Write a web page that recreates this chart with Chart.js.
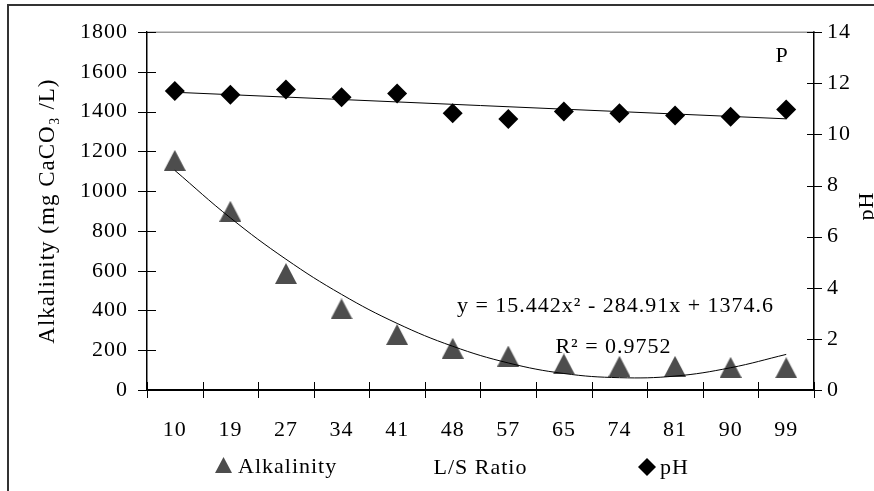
<!DOCTYPE html>
<html><head><meta charset="utf-8">
<script src="https://cdn.jsdelivr.net/npm/chart.js@4.4.1/dist/chart.umd.min.js"></script>
<style>html,body{margin:0;padding:0;background:#fff;overflow:hidden}#wrap{width:874px;height:491px;position:relative}</style>
</head><body><div id="wrap"><canvas id="c" width="874" height="491"></canvas></div>
<script>
// ---- data ----
const categories = ['10','19','27','34','41','48','57','65','74','81','90','99'];
const alkalinity = [1155, 899, 586, 408, 279, 210, 171, 131, 119, 119, 114, 112];
const pH = [11.70, 11.55, 11.76, 11.45, 11.60, 10.83, 10.60, 10.90, 10.83, 10.74, 10.69, 10.98];
const alkalinityTrend = [1105, 866, 658, 481, 335, 220, 136, 83, 62, 70, 112, 179];
const pHTrend = [11.65, null, null, null, null, null, null, null, null, null, null, 10.61];
const leftTicks = [0, 200, 400, 600, 800, 1000, 1200, 1400, 1600, 1800];
const rightTicks = [0, 2, 4, 6, 8, 10, 12, 14];
const leftTitle = 'Alkalinity (mg CaCO\u2083 /L)';
const rightTitle = 'pH';
const xTitle = 'L/S Ratio';
const equationText = 'y = 15.442x\u00B2 - 284.91x + 1374.6';
const r2Text = 'R\u00B2 = 0.9752';
const cornerLabel = 'P';
const seriesNames = ['Alkalinity', 'pH'];

const FONT = "'Liberation Serif', 'Times New Roman', serif";
Chart.defaults.font.family = FONT;
Chart.defaults.font.size = 22;
Chart.defaults.color = '#000';

const TRI_COLOR = '#4d4d4d';
function makeTriangle(w, h) {
  const cv = document.createElement('canvas');
  cv.width = w; cv.height = h;
  const g = cv.getContext('2d');
  g.fillStyle = TRI_COLOR;
  g.beginPath(); g.moveTo(w / 2, 0); g.lineTo(w, h); g.lineTo(0, h); g.closePath(); g.fill();
  return cv;
}
const triPoint = makeTriangle(22, 21);

const spacing = {
  id: 'spacing',
  beforeUpdate(c) { c.ctx.letterSpacing = '1px'; },
  beforeDraw(c) { c.ctx.letterSpacing = '1px'; }
};

const decor = {
  id: 'decor',
  afterDraw(c) {
    const ctx = c.ctx, a = c.chartArea;
    const xs = c.scales.x, ys = c.scales.y, y1 = c.scales.y1;
    ctx.save();
    // outer frame
    ctx.strokeStyle = '#333'; ctx.lineWidth = 2;
    ctx.beginPath(); ctx.moveTo(8, 491); ctx.lineTo(8, 5); ctx.lineTo(874, 5); ctx.stroke();
    // plot area top edge
    ctx.strokeStyle = '#999'; ctx.lineWidth = 1.5;
    ctx.beginPath(); ctx.moveTo(a.left, a.top); ctx.lineTo(a.right, a.top); ctx.stroke();
    // crossing tick marks
    ctx.strokeStyle = '#000'; ctx.lineWidth = 1;
    ctx.beginPath();
    leftTicks.forEach(v => { const y = Math.round(ys.getPixelForValue(v)) + 0.5; ctx.moveTo(a.left - 9, y); ctx.lineTo(a.left + 9, y); });
    rightTicks.forEach(v => { const y = Math.round(y1.getPixelForValue(v)) + 0.5; ctx.moveTo(a.right - 7, y); ctx.lineTo(a.right + 8, y); });
    const step = xs.getPixelForValue(1) - xs.getPixelForValue(0);
    for (let i = 0; i <= categories.length; i++) {
      const x = Math.round(xs.getPixelForValue(i) - step / 2) + 0.5;
      ctx.moveTo(x, a.bottom - 8); ctx.lineTo(x, a.bottom + 8);
    }
    ctx.stroke();
    // texts
    ctx.fillStyle = '#000';
    ctx.font = '22px ' + FONT;
    ctx.textBaseline = 'alphabetic';
    ctx.textAlign = 'center';
    ctx.fillText(cornerLabel, 782, 62);
    ctx.fillText(equationText, 615.5, 311.5);
    ctx.fillText(r2Text, 613.5, 353);
    // right axis title (rotated like the left one), partly cut by the frame edge
    ctx.save();
    ctx.translate(873, 206); ctx.rotate(-Math.PI / 2);
    ctx.fillText(rightTitle, 0, 0);
    ctx.restore();
    // legend
    ctx.textAlign = 'left';
    ctx.fillStyle = TRI_COLOR;
    ctx.beginPath(); ctx.moveTo(223.5, 457); ctx.lineTo(232, 473); ctx.lineTo(215, 473); ctx.closePath(); ctx.fill();
    ctx.fillStyle = '#000';
    ctx.fillText(seriesNames[0], 238, 472.5);
    ctx.beginPath(); ctx.moveTo(647, 458); ctx.lineTo(656, 467); ctx.lineTo(647, 476); ctx.lineTo(638, 467); ctx.closePath(); ctx.fill();
    ctx.fillText(seriesNames[1], 660, 473.5);
    ctx.restore();
  }
};

new Chart(document.getElementById('c'), {
  type: 'line',
  data: {
    labels: categories,
    datasets: [
      { label: 'Alkalinity trend', data: alkalinityTrend, yAxisID: 'y', borderColor: '#000', borderWidth: 1, pointRadius: 0, tension: 0.4, fill: false },
      { label: 'pH trend', data: pHTrend, yAxisID: 'y1', borderColor: '#000', borderWidth: 1, pointRadius: 0, spanGaps: true, fill: false },
      { label: seriesNames[0], data: alkalinity, yAxisID: 'y', showLine: false, pointStyle: triPoint, pointRadius: 11, backgroundColor: TRI_COLOR, borderColor: TRI_COLOR },
      { label: seriesNames[1], data: pH, yAxisID: 'y1', showLine: false, pointStyle: 'rectRot', pointRadius: 10, pointBorderWidth: 0, backgroundColor: '#000', borderColor: '#000' }
    ]
  },
  options: {
    responsive: false, animation: false, devicePixelRatio: 1,
    layout: { padding: { top: 28, left: 0, right: 0, bottom: 0 } },
    plugins: { legend: { display: false }, tooltip: { enabled: false } },
    scales: {
      x: {
        offset: true,
        grid: { display: false, drawTicks: false },
        border: { display: true, color: '#000', width: 2 },
        ticks: { color: '#000', padding: 27, maxRotation: 0, autoSkip: false },
        title: { display: true, text: xTitle, color: '#000', padding: { top: 0, bottom: 10 } },
        afterFit: s => { s.height = 101; }
      },
      y: {
        position: 'left', min: 0, max: 1800,
        grid: { display: false, drawTicks: false },
        border: { display: true, color: '#000', width: 1.5 },
        ticks: { color: '#000', padding: 19, callback: v => String(v) },
        afterBuildTicks: s => { s.ticks = leftTicks.map(v => ({ value: v })); },
        title: { display: true, text: leftTitle, color: '#000', font: { size: 23 }, padding: { top: 34, bottom: 0 } },
        afterFit: s => { s.width = 147; }
      },
      y1: {
        position: 'right', min: 0, max: 14,
        grid: { display: false, drawTicks: false },
        border: { display: true, color: '#000', width: 1.5 },
        ticks: { color: '#000', padding: 13, callback: v => String(v) },
        afterBuildTicks: s => { s.ticks = rightTicks.map(v => ({ value: v })); },
        afterFit: s => { s.width = 60; }
      }
    }
  },
  plugins: [spacing, decor]
});
</script>
</body></html>
